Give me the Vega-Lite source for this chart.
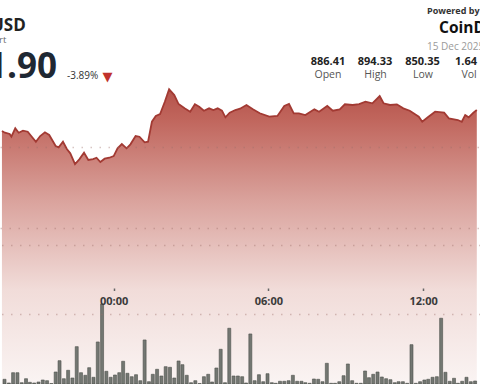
{
  "$schema": "https://vega.github.io/schema/vega-lite/v6.json",
  "width": 480,
  "height": 384,
  "autosize": {"type": "fit", "contains": "padding"},
  "padding": 0,
  "background": "#ffffff",
  "view": {"stroke": null},
  "config": {"font": "Open Sans"},
  "datasets": {
    "price": [
      {"t": "2025-12-14T19:40:00Z", "price": 863.96},
      {"t": "2025-12-14T19:47:00Z", "price": 863.54},
      {"t": "2025-12-14T19:58:00Z", "price": 863.22},
      {"t": "2025-12-14T20:02:00Z", "price": 862.55},
      {"t": "2025-12-14T20:11:00Z", "price": 864.62},
      {"t": "2025-12-14T20:19:00Z", "price": 863.54},
      {"t": "2025-12-14T20:29:00Z", "price": 864.03},
      {"t": "2025-12-14T20:40:00Z", "price": 863.78},
      {"t": "2025-12-14T20:59:00Z", "price": 861.31},
      {"t": "2025-12-14T21:09:00Z", "price": 862.72},
      {"t": "2025-12-14T21:20:00Z", "price": 863.63},
      {"t": "2025-12-14T21:30:00Z", "price": 862.97},
      {"t": "2025-12-14T21:45:00Z", "price": 860.25},
      {"t": "2025-12-14T21:52:00Z", "price": 859.93},
      {"t": "2025-12-14T22:02:00Z", "price": 861.31},
      {"t": "2025-12-14T22:11:00Z", "price": 859.51},
      {"t": "2025-12-14T22:19:00Z", "price": 858.45},
      {"t": "2025-12-14T22:30:00Z", "price": 855.81},
      {"t": "2025-12-14T22:40:00Z", "price": 856.97},
      {"t": "2025-12-14T22:51:00Z", "price": 858.60},
      {"t": "2025-12-14T23:01:00Z", "price": 856.80},
      {"t": "2025-12-14T23:12:00Z", "price": 857.04},
      {"t": "2025-12-14T23:20:00Z", "price": 857.36},
      {"t": "2025-12-14T23:29:00Z", "price": 856.30},
      {"t": "2025-12-14T23:39:00Z", "price": 857.12},
      {"t": "2025-12-14T23:50:00Z", "price": 857.36},
      {"t": "2025-12-15T00:00:00Z", "price": 857.78},
      {"t": "2025-12-15T00:09:00Z", "price": 859.69},
      {"t": "2025-12-15T00:19:00Z", "price": 860.75},
      {"t": "2025-12-15T00:30:00Z", "price": 859.69},
      {"t": "2025-12-15T00:39:00Z", "price": 860.67},
      {"t": "2025-12-15T00:51:00Z", "price": 862.72},
      {"t": "2025-12-15T01:00:00Z", "price": 862.55},
      {"t": "2025-12-15T01:12:00Z", "price": 861.17},
      {"t": "2025-12-15T01:20:00Z", "price": 861.31},
      {"t": "2025-12-15T01:29:00Z", "price": 866.25},
      {"t": "2025-12-15T01:38:00Z", "price": 867.66},
      {"t": "2025-12-15T01:48:00Z", "price": 868.15},
      {"t": "2025-12-15T01:59:00Z", "price": 871.19},
      {"t": "2025-12-15T02:09:00Z", "price": 874.25},
      {"t": "2025-12-15T02:21:00Z", "price": 872.84},
      {"t": "2025-12-15T02:31:00Z", "price": 870.62},
      {"t": "2025-12-15T02:45:00Z", "price": 869.56},
      {"t": "2025-12-15T02:58:00Z", "price": 868.72},
      {"t": "2025-12-15T03:09:00Z", "price": 870.55},
      {"t": "2025-12-15T03:19:00Z", "price": 869.96},
      {"t": "2025-12-15T03:30:00Z", "price": 868.97},
      {"t": "2025-12-15T03:42:00Z", "price": 869.56},
      {"t": "2025-12-15T03:52:00Z", "price": 869.14},
      {"t": "2025-12-15T04:02:00Z", "price": 869.56},
      {"t": "2025-12-15T04:12:00Z", "price": 868.97},
      {"t": "2025-12-15T04:20:00Z", "price": 867.34},
      {"t": "2025-12-15T04:30:00Z", "price": 868.47},
      {"t": "2025-12-15T04:43:00Z", "price": 869.14},
      {"t": "2025-12-15T04:54:00Z", "price": 869.46},
      {"t": "2025-12-15T05:09:00Z", "price": 870.38},
      {"t": "2025-12-15T05:24:00Z", "price": 869.31},
      {"t": "2025-12-15T05:40:00Z", "price": 868.33},
      {"t": "2025-12-15T06:02:00Z", "price": 867.49},
      {"t": "2025-12-15T06:21:00Z", "price": 867.66},
      {"t": "2025-12-15T06:37:00Z", "price": 870.13},
      {"t": "2025-12-15T06:48:00Z", "price": 870.62},
      {"t": "2025-12-15T06:59:00Z", "price": 868.33},
      {"t": "2025-12-15T07:11:00Z", "price": 868.33},
      {"t": "2025-12-15T07:26:00Z", "price": 867.91},
      {"t": "2025-12-15T07:47:00Z", "price": 869.31},
      {"t": "2025-12-15T07:58:00Z", "price": 868.72},
      {"t": "2025-12-15T08:17:00Z", "price": 870.13},
      {"t": "2025-12-15T08:30:00Z", "price": 868.97},
      {"t": "2025-12-15T08:46:00Z", "price": 869.31},
      {"t": "2025-12-15T08:58:00Z", "price": 870.55},
      {"t": "2025-12-15T09:16:00Z", "price": 870.38},
      {"t": "2025-12-15T09:31:00Z", "price": 870.62},
      {"t": "2025-12-15T09:46:00Z", "price": 871.19},
      {"t": "2025-12-15T10:02:00Z", "price": 870.80},
      {"t": "2025-12-15T10:19:00Z", "price": 872.60},
      {"t": "2025-12-15T10:28:00Z", "price": 870.80},
      {"t": "2025-12-15T10:43:00Z", "price": 870.38},
      {"t": "2025-12-15T10:59:00Z", "price": 870.55},
      {"t": "2025-12-15T11:14:00Z", "price": 869.56},
      {"t": "2025-12-15T11:29:00Z", "price": 868.97},
      {"t": "2025-12-15T11:44:00Z", "price": 867.91},
      {"t": "2025-12-15T11:50:00Z", "price": 867.49},
      {"t": "2025-12-15T11:58:00Z", "price": 866.25},
      {"t": "2025-12-15T12:11:00Z", "price": 867.34},
      {"t": "2025-12-15T12:28:00Z", "price": 868.72},
      {"t": "2025-12-15T12:49:00Z", "price": 868.47},
      {"t": "2025-12-15T13:00:00Z", "price": 867.09},
      {"t": "2025-12-15T13:21:00Z", "price": 866.67},
      {"t": "2025-12-15T13:30:00Z", "price": 866.25},
      {"t": "2025-12-15T13:38:00Z", "price": 867.91},
      {"t": "2025-12-15T13:46:00Z", "price": 867.34},
      {"t": "2025-12-15T13:57:00Z", "price": 868.47},
      {"t": "2025-12-15T14:05:00Z", "price": 869.14}
    ],
    "volume": [
      {"t": "2025-12-14T19:46:00Z", "vol": 1354},
      {"t": "2025-12-14T19:56:00Z", "vol": 288},
      {"t": "2025-12-14T20:06:00Z", "vol": 3254},
      {"t": "2025-12-14T20:16:00Z", "vol": 3254},
      {"t": "2025-12-14T20:26:00Z", "vol": 374},
      {"t": "2025-12-14T20:36:00Z", "vol": 1526},
      {"t": "2025-12-14T20:45:00Z", "vol": 490},
      {"t": "2025-12-14T20:55:00Z", "vol": 288},
      {"t": "2025-12-14T21:05:00Z", "vol": 576},
      {"t": "2025-12-14T21:15:00Z", "vol": 1152},
      {"t": "2025-12-14T21:25:00Z", "vol": 950},
      {"t": "2025-12-14T21:35:00Z", "vol": 144},
      {"t": "2025-12-14T21:45:00Z", "vol": 3456},
      {"t": "2025-12-14T21:54:00Z", "vol": 6710},
      {"t": "2025-12-14T22:04:00Z", "vol": 1526},
      {"t": "2025-12-14T22:14:00Z", "vol": 3946},
      {"t": "2025-12-14T22:24:00Z", "vol": 1728},
      {"t": "2025-12-14T22:34:00Z", "vol": 10742},
      {"t": "2025-12-14T22:44:00Z", "vol": 3254},
      {"t": "2025-12-14T22:54:00Z", "vol": 2506},
      {"t": "2025-12-14T23:03:00Z", "vol": 4694},
      {"t": "2025-12-14T23:13:00Z", "vol": 1930},
      {"t": "2025-12-14T23:23:00Z", "vol": 12096},
      {"t": "2025-12-14T23:33:00Z", "vol": 23040},
      {"t": "2025-12-14T23:43:00Z", "vol": 3658},
      {"t": "2025-12-14T23:53:00Z", "vol": 1930},
      {"t": "2025-12-15T00:03:00Z", "vol": 2592},
      {"t": "2025-12-15T00:13:00Z", "vol": 3254},
      {"t": "2025-12-15T00:22:00Z", "vol": 6538},
      {"t": "2025-12-15T00:32:00Z", "vol": 3082},
      {"t": "2025-12-15T00:42:00Z", "vol": 2102},
      {"t": "2025-12-15T00:52:00Z", "vol": 2678},
      {"t": "2025-12-15T01:02:00Z", "vol": 950},
      {"t": "2025-12-15T01:12:00Z", "vol": 12672},
      {"t": "2025-12-15T01:22:00Z", "vol": 662},
      {"t": "2025-12-15T01:31:00Z", "vol": 2794},
      {"t": "2025-12-15T01:41:00Z", "vol": 4234},
      {"t": "2025-12-15T01:51:00Z", "vol": 2304},
      {"t": "2025-12-15T02:01:00Z", "vol": 4982},
      {"t": "2025-12-15T02:11:00Z", "vol": 4810},
      {"t": "2025-12-15T02:21:00Z", "vol": 1728},
      {"t": "2025-12-15T02:31:00Z", "vol": 6624},
      {"t": "2025-12-15T02:40:00Z", "vol": 5558},
      {"t": "2025-12-15T02:50:00Z", "vol": 2506},
      {"t": "2025-12-15T03:00:00Z", "vol": 374},
      {"t": "2025-12-15T03:10:00Z", "vol": 950},
      {"t": "2025-12-15T03:20:00Z", "vol": 144},
      {"t": "2025-12-15T03:30:00Z", "vol": 2102},
      {"t": "2025-12-15T03:40:00Z", "vol": 2794},
      {"t": "2025-12-15T03:49:00Z", "vol": 576},
      {"t": "2025-12-15T03:59:00Z", "vol": 4608},
      {"t": "2025-12-15T04:09:00Z", "vol": 9994},
      {"t": "2025-12-15T04:19:00Z", "vol": 374},
      {"t": "2025-12-15T04:29:00Z", "vol": 16042},
      {"t": "2025-12-15T04:39:00Z", "vol": 2304},
      {"t": "2025-12-15T04:49:00Z", "vol": 2304},
      {"t": "2025-12-15T04:59:00Z", "vol": 2102},
      {"t": "2025-12-15T05:08:00Z", "vol": 288},
      {"t": "2025-12-15T05:18:00Z", "vol": 14400},
      {"t": "2025-12-15T05:28:00Z", "vol": 950},
      {"t": "2025-12-15T05:38:00Z", "vol": 2678},
      {"t": "2025-12-15T05:48:00Z", "vol": 662},
      {"t": "2025-12-15T05:58:00Z", "vol": 2966},
      {"t": "2025-12-15T06:08:00Z", "vol": 374},
      {"t": "2025-12-15T06:17:00Z", "vol": 202},
      {"t": "2025-12-15T06:27:00Z", "vol": 778},
      {"t": "2025-12-15T06:37:00Z", "vol": 778},
      {"t": "2025-12-15T06:47:00Z", "vol": 950},
      {"t": "2025-12-15T06:57:00Z", "vol": 2506},
      {"t": "2025-12-15T07:07:00Z", "vol": 778},
      {"t": "2025-12-15T07:17:00Z", "vol": 778},
      {"t": "2025-12-15T07:26:00Z", "vol": 374},
      {"t": "2025-12-15T07:36:00Z", "vol": 202},
      {"t": "2025-12-15T07:46:00Z", "vol": 1440},
      {"t": "2025-12-15T07:56:00Z", "vol": 1354},
      {"t": "2025-12-15T08:06:00Z", "vol": 662},
      {"t": "2025-12-15T08:16:00Z", "vol": 5962},
      {"t": "2025-12-15T08:26:00Z", "vol": 202},
      {"t": "2025-12-15T08:35:00Z", "vol": 202},
      {"t": "2025-12-15T08:45:00Z", "vol": 662},
      {"t": "2025-12-15T08:55:00Z", "vol": 2390},
      {"t": "2025-12-15T09:05:00Z", "vol": 5760},
      {"t": "2025-12-15T09:15:00Z", "vol": 950},
      {"t": "2025-12-15T09:25:00Z", "vol": 202},
      {"t": "2025-12-15T09:35:00Z", "vol": 202},
      {"t": "2025-12-15T09:45:00Z", "vol": 3744},
      {"t": "2025-12-15T09:54:00Z", "vol": 1814},
      {"t": "2025-12-15T10:04:00Z", "vol": 2794},
      {"t": "2025-12-15T10:14:00Z", "vol": 3456},
      {"t": "2025-12-15T10:24:00Z", "vol": 2016},
      {"t": "2025-12-15T10:34:00Z", "vol": 1526},
      {"t": "2025-12-15T10:44:00Z", "vol": 1238},
      {"t": "2025-12-15T10:54:00Z", "vol": 374},
      {"t": "2025-12-15T11:03:00Z", "vol": 662},
      {"t": "2025-12-15T11:13:00Z", "vol": 662},
      {"t": "2025-12-15T11:23:00Z", "vol": 202},
      {"t": "2025-12-15T11:33:00Z", "vol": 11318},
      {"t": "2025-12-15T11:43:00Z", "vol": 202},
      {"t": "2025-12-15T11:53:00Z", "vol": 662},
      {"t": "2025-12-15T12:03:00Z", "vol": 1152},
      {"t": "2025-12-15T12:12:00Z", "vol": 1354},
      {"t": "2025-12-15T12:22:00Z", "vol": 1930},
      {"t": "2025-12-15T12:32:00Z", "vol": 2102},
      {"t": "2025-12-15T12:42:00Z", "vol": 18922},
      {"t": "2025-12-15T12:52:00Z", "vol": 3370},
      {"t": "2025-12-15T13:02:00Z", "vol": 778},
      {"t": "2025-12-15T13:12:00Z", "vol": 1642},
      {"t": "2025-12-15T13:21:00Z", "vol": 202},
      {"t": "2025-12-15T13:31:00Z", "vol": 778},
      {"t": "2025-12-15T13:41:00Z", "vol": 1930},
      {"t": "2025-12-15T13:51:00Z", "vol": 662},
      {"t": "2025-12-15T14:01:00Z", "vol": 864}
    ]
  },
  "layer": [
    {
      "data": {"name": "price"},
      "mark": {
        "type": "area",
        "clip": true,
        "color": {
          "gradient": "linear",
          "x1": 0, "y1": 0, "x2": 0, "y2": 1,
          "stops": [
            {"offset": 0, "color": "#b5524a"},
            {"offset": 0.1, "color": "#c0655c"},
            {"offset": 0.38, "color": "#daa39d"},
            {"offset": 0.68, "color": "#f1dcd9"},
            {"offset": 1, "color": "#faf4f3"}
          ]
        }
      },
      "encoding": {
        "x": {
          "field": "t", "type": "temporal",
          "scale": {
            "type": "utc",
            "domain": [
              {"year": 2025, "month": 12, "date": 14, "hours": 19, "minutes": 47, "seconds": 6, "utc": true},
              {"year": 2025, "month": 12, "date": 15, "hours": 14, "minutes": 0, "seconds": 48, "utc": true}
            ]
          },
          "axis": {
            "values": [
              {"year": 2025, "month": 12, "date": 15, "hours": 0, "utc": true},
              {"year": 2025, "month": 12, "date": 15, "hours": 6, "utc": true},
              {"year": 2025, "month": 12, "date": 15, "hours": 12, "utc": true}
            ],
            "format": "%H:%M",
            "orient": "bottom",
            "offset": -96,
            "domain": false,
            "grid": false,
            "tickSize": 2.5,
            "tickWidth": 1.5,
            "tickColor": "#666666",
            "labelFontSize": 11,
            "labelFontWeight": "bold",
            "labelColor": "#3a3a3a",
            "labelFont": "Open Sans",
            "labelPadding": 5,
            "title": null,
            "zindex": 1
          }
        },
        "y": {
          "field": "price", "type": "quantitative",
          "scale": {"domain": [801.5, 896.3], "zero": false, "nice": false},
          "axis": {
            "values": [840, 860],
            "grid": true,
            "gridDash": [1.5, 7.5],
            "gridColor": "#9e6f6a",
            "gridOpacity": 0.4,
            "gridWidth": 1.5,
            "labels": false,
            "ticks": false,
            "domain": false,
            "title": null,
            "zindex": 1
          }
        },
        "y2": {"datum": 801.5}
      }
    },
    {
      "data": {"name": "price"},
      "mark": {"type": "line", "clip": true, "color": "#a23a33", "strokeWidth": 1.8},
      "encoding": {
        "x": {"field": "t", "type": "temporal"},
        "y": {
          "field": "price", "type": "quantitative",
          "scale": {"domain": [801.5, 896.3], "zero": false, "nice": false},
          "axis": null
        }
      }
    },
    {
      "data": {"name": "volume"},
      "mark": {"type": "bar", "clip": true, "width": 3, "fill": "#737772", "stroke": "#4d514c", "strokeWidth": 0.6},
      "encoding": {
        "x": {"field": "t", "type": "temporal"},
        "y": {
          "field": "vol", "type": "quantitative",
          "scale": {"domain": [0, 110500], "nice": false},
          "axis": {
            "orient": "right",
            "values": [20000, 40000],
            "grid": true,
            "gridDash": [1.5, 7.5],
            "gridColor": "#9e6f6a",
            "gridOpacity": 0.4,
            "gridWidth": 1.5,
            "labels": false,
            "ticks": false,
            "domain": false,
            "title": null,
            "zindex": 1
          }
        }
      }
    },
    {
      "data": {"values": [{"label": "USD"}]},
      "mark": {"type": "text", "clip": true, "align": "left", "baseline": "alphabetic", "font": "Open Sans", "fontSize": 17, "fontWeight": "bold", "color": "#222222"},
      "encoding": {"text": {"field": "label"}, "x": {"value": -9}, "y": {"value": 31}}
    },
    {
      "data": {"values": [{"label": "rt"}]},
      "mark": {"type": "text", "clip": true, "align": "left", "baseline": "alphabetic", "font": "Open Sans", "fontSize": 9.5, "color": "#666666"},
      "encoding": {"text": {"field": "label"}, "x": {"value": -1}, "y": {"value": 43}}
    },
    {
      "data": {"values": [{"label": "1.90"}]},
      "mark": {"type": "text", "clip": true, "align": "right", "baseline": "alphabetic", "font": "Open Sans", "fontSize": 35, "fontWeight": "bold", "color": "#1f2833"},
      "encoding": {"text": {"field": "label"}, "x": {"value": 57}, "y": {"value": 78}}
    },
    {
      "data": {"values": [{"label": "-3.89%"}]},
      "mark": {"type": "text", "align": "left", "baseline": "alphabetic", "font": "Open Sans", "fontSize": 10, "color": "#333333"},
      "encoding": {"text": {"field": "label"}, "x": {"value": 67}, "y": {"value": 79}}
    },
    {
      "data": {"values": [{"label": "▼"}]},
      "mark": {"type": "text", "align": "center", "baseline": "alphabetic", "font": "DejaVu Sans", "fontSize": 13, "color": "#c0322c"},
      "encoding": {"text": {"field": "label"}, "x": {"value": 107.5}, "y": {"value": 81}}
    },
    {
      "data": {"values": [{"label": "Powered by"}]},
      "mark": {"type": "text", "align": "left", "baseline": "alphabetic", "font": "Open Sans", "fontSize": 9, "fontWeight": "bold", "color": "#333333"},
      "encoding": {"text": {"field": "label"}, "x": {"value": 427}, "y": {"value": 14}}
    },
    {
      "data": {"values": [{"label": "CoinDesk"}]},
      "mark": {"type": "text", "clip": true, "align": "left", "baseline": "alphabetic", "font": "Open Sans", "fontSize": 15.5, "fontWeight": "bold", "color": "#111111"},
      "encoding": {"text": {"field": "label"}, "x": {"value": 439}, "y": {"value": 33}}
    },
    {
      "data": {"values": [{"label": "15 Dec 2025"}]},
      "mark": {"type": "text", "clip": true, "align": "left", "baseline": "alphabetic", "font": "Open Sans", "fontSize": 10, "color": "#9a9a9a"},
      "encoding": {"text": {"field": "label"}, "x": {"value": 427}, "y": {"value": 50}}
    },
    {
      "data": {"values": [{"label": "886.41"}]},
      "mark": {"type": "text", "align": "center", "baseline": "alphabetic", "font": "Open Sans", "fontSize": 11, "fontWeight": "bold", "color": "#222222"},
      "encoding": {"text": {"field": "label"}, "x": {"value": 328}, "y": {"value": 64.5}}
    },
    {
      "data": {"values": [{"label": "894.33"}]},
      "mark": {"type": "text", "align": "center", "baseline": "alphabetic", "font": "Open Sans", "fontSize": 11, "fontWeight": "bold", "color": "#222222"},
      "encoding": {"text": {"field": "label"}, "x": {"value": 375}, "y": {"value": 64.5}}
    },
    {
      "data": {"values": [{"label": "850.35"}]},
      "mark": {"type": "text", "align": "center", "baseline": "alphabetic", "font": "Open Sans", "fontSize": 11, "fontWeight": "bold", "color": "#222222"},
      "encoding": {"text": {"field": "label"}, "x": {"value": 422.5}, "y": {"value": 64.5}}
    },
    {
      "data": {"values": [{"label": "1.64 M"}]},
      "mark": {"type": "text", "clip": true, "align": "left", "baseline": "alphabetic", "font": "Open Sans", "fontSize": 11, "fontWeight": "bold", "color": "#222222"},
      "encoding": {"text": {"field": "label"}, "x": {"value": 455}, "y": {"value": 64.5}}
    },
    {
      "data": {"values": [{"label": "Open"}]},
      "mark": {"type": "text", "align": "center", "baseline": "alphabetic", "font": "Open Sans", "fontSize": 10.5, "color": "#555555"},
      "encoding": {"text": {"field": "label"}, "x": {"value": 328}, "y": {"value": 77.5}}
    },
    {
      "data": {"values": [{"label": "High"}]},
      "mark": {"type": "text", "align": "center", "baseline": "alphabetic", "font": "Open Sans", "fontSize": 10.5, "color": "#555555"},
      "encoding": {"text": {"field": "label"}, "x": {"value": 375.5}, "y": {"value": 77.5}}
    },
    {
      "data": {"values": [{"label": "Low"}]},
      "mark": {"type": "text", "align": "center", "baseline": "alphabetic", "font": "Open Sans", "fontSize": 10.5, "color": "#555555"},
      "encoding": {"text": {"field": "label"}, "x": {"value": 423}, "y": {"value": 77.5}}
    },
    {
      "data": {"values": [{"label": "Vol"}]},
      "mark": {"type": "text", "align": "center", "baseline": "alphabetic", "font": "Open Sans", "fontSize": 10.5, "color": "#555555"},
      "encoding": {"text": {"field": "label"}, "x": {"value": 469}, "y": {"value": 77.5}}
    }
  ],
  "resolve": {"scale": {"y": "independent"}, "axis": {"y": "independent"}}
}
